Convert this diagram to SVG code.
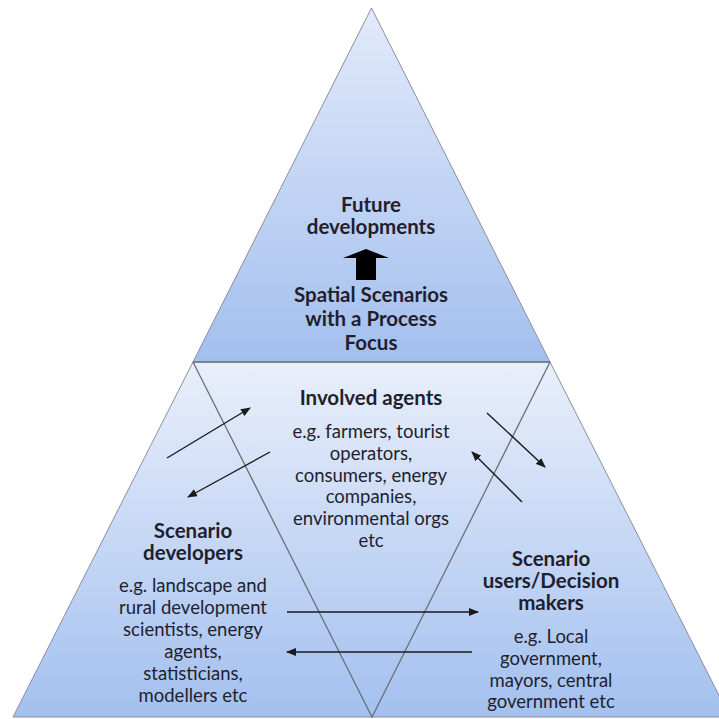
<svg xmlns="http://www.w3.org/2000/svg" width="719" height="719" viewBox="0 0 719 719">
  <defs>
    <linearGradient id="gTop" x1="0" y1="8" x2="0" y2="362" gradientUnits="userSpaceOnUse">
      <stop offset="0" stop-color="#e2eafa"/>
      <stop offset="1" stop-color="#a3bfee"/>
    </linearGradient>
    <linearGradient id="gBot" x1="0" y1="362" x2="0" y2="717" gradientUnits="userSpaceOnUse">
      <stop offset="0" stop-color="#e9effb"/>
      <stop offset="1" stop-color="#a3c0ef"/>
    </linearGradient>
    <marker id="ah" viewBox="0 0 10 8" refX="9" refY="4" markerWidth="10" markerHeight="8" markerUnits="userSpaceOnUse" orient="auto">
      <path d="M0,0 L10,4 L0,8 Z" fill="#1a1a1a"/>
    </marker>
    <style>
      text { font-family: Lato, "Liberation Sans", sans-serif; fill: #1f1f2e; text-anchor: middle; }
      .h { font-size: 20.5px; font-weight: bold; }
      .b { font-size: 18.5px; }
      .edge { fill: none; stroke: #6f6f78; stroke-width: 1.3; }
      .conn { fill: none; stroke: #1a1a1a; stroke-width: 1.4; marker-end: url(#ah); }
    </style>
  </defs>

  <rect width="719" height="719" fill="#ffffff"/>

  <g id="top-triangle">
    <path d="M371.5,8 L550,362 L193,362 Z" fill="url(#gTop)" stroke="#8a8f9c" stroke-width="1"/>
    <text class="h" x="371" y="212">Future</text>
    <text class="h" x="371" y="234">developments</text>
    <path d="M366,249 L389,258 L376,258 L376,280 L356,280 L356,258 L343,258 Z" fill="#000000"/>
    <text class="h" x="371" y="302">Spatial Scenarios</text>
    <text class="h" x="371" y="326">with a Process</text>
    <text class="h" x="371" y="350">Focus</text>
  </g>

  <g id="base-trapezoid">
    <path d="M193,362 L550,362 L730,717 L13,717 Z" fill="url(#gBot)" stroke="#8a8f9c" stroke-width="1"/>
    <line x1="193" y1="362" x2="550" y2="362" stroke="#6f737e" stroke-width="1.6"/>
  </g>

  <g id="involved-agents">
    <path class="edge" d="M193,362 L372,717 L550,362"/>
    <text class="h" x="371" y="405">Involved agents</text>
    <text class="b" x="371" y="438">e.g. farmers, tourist</text>
    <text class="b" x="371" y="460">operators,</text>
    <text class="b" x="371" y="482">consumers, energy</text>
    <text class="b" x="371" y="503">companies,</text>
    <text class="b" x="371" y="525">environmental orgs</text>
    <text class="b" x="371" y="547">etc</text>
  </g>

  <g id="scenario-developers">
    <text class="h" x="193" y="538">Scenario</text>
    <text class="h" x="193" y="560">developers</text>
    <text class="b" x="193" y="592">e.g. landscape and</text>
    <text class="b" x="193" y="614">rural development</text>
    <text class="b" x="193" y="636">scientists, energy</text>
    <text class="b" x="193" y="658">agents,</text>
    <text class="b" x="193" y="680">statisticians,</text>
    <text class="b" x="193" y="702">modellers etc</text>
  </g>

  <g id="scenario-users">
    <text class="h" x="551" y="566">Scenario</text>
    <text class="h" x="551" y="588">users/Decision</text>
    <text class="h" x="551" y="610">makers</text>
    <text class="b" x="551" y="643">e.g. Local</text>
    <text class="b" x="551" y="665">government,</text>
    <text class="b" x="551" y="687">mayors, central</text>
    <text class="b" x="551" y="708">government etc</text>
  </g>

  <g id="connectors">
    <line class="conn" x1="167" y1="458" x2="250" y2="408"/>
    <line class="conn" x1="270" y1="452" x2="188" y2="497"/>
    <line class="conn" x1="487" y1="413" x2="545" y2="467"/>
    <line class="conn" x1="522" y1="502" x2="472" y2="452"/>
    <line class="conn" x1="287" y1="612" x2="478" y2="612"/>
    <line class="conn" x1="472" y1="652" x2="287" y2="652"/>
  </g>
</svg>
